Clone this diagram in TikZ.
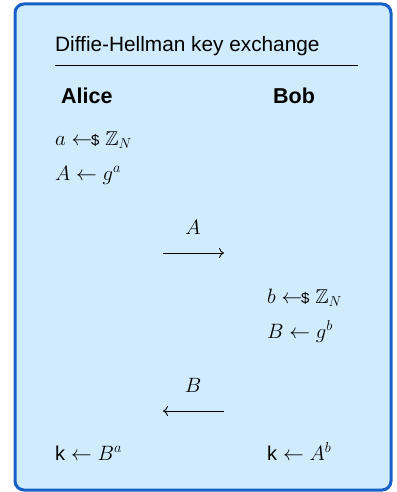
\documentclass[tikz,border=0pt]{standalone}
\usepackage{fontspec}
\usepackage{amssymb}
\setsansfont{Liberation Sans}
\usetikzlibrary{positioning,arrows.meta}

\definecolor{boxfill}{HTML}{D0ECFC}
\definecolor{boxline}{HTML}{1660C8}

\newcommand{\sampleto}{\mathrel{\leftarrow\!\!\mbox{\fontsize{15}{15}\sffamily\$}}}
\newcommand{\keyk}{\mbox{\sffamily k}}

\tikzset{
  party/.style={anchor=base west, inner sep=0pt, font=\fontsize{21.5}{24}\sffamily\bfseries},
  step line/.style={anchor=base west, inner sep=0pt, font=\fontsize{20}{24}\selectfont},
  msg/.style={-{Computer Modern Rightarrow[length=5pt,width=10pt]}, line width=0.9pt},
  msglabel/.style={inner sep=0pt, anchor=base, font=\fontsize{20}{24}\selectfont}
}

\begin{document}
\begin{tikzpicture}[x=1pt, y=-1pt]
  \useasboundingbox (0,0) rectangle (396,492);

  % kassen
  \draw[boxline, fill=boxfill, line width=3pt, rounded corners=9pt]
    (15,4) rectangle (391,490);

  % tittel
  \node[anchor=base west, inner sep=0pt, font=\fontsize{20.8}{24}\sffamily] (title)
    at (55,52) {Diffie-Hellman key exchange};
  \draw[line width=0.6pt] (55,65) -- (358,65);

  % partene
  \node[party] (alice) at (61,104) {Alice};
  \node[party] (bob) at (273,104) {Bob};

  % Alice
  \node[step line] (asample) at (55,145) {$a \sampleto \mathbb{Z}_N$};
  \node[step line] (apub) at (55,180) {$A \leftarrow g^a$};

  % melding A
  \coordinate (msgA-l) at (163,253);
  \coordinate (msgA-r) at (224,253);
  \draw[msg] (msgA-l) -- (msgA-r);
  \node[msglabel] (labA) at (193,234) {$A$};

  % Bob
  \node[step line] (bsample) at (267,303) {$b \sampleto \mathbb{Z}_N$};
  \node[step line] (bpub) at (267,338) {$B \leftarrow g^b$};

  % melding B
  \coordinate (msgB-l) at (163,411);
  \coordinate (msgB-r) at (224,411);
  \draw[msg] (msgB-r) -- (msgB-l);
  \node[msglabel] (labB) at (193,392) {$B$};

  % nøkler
  \node[step line] (akey) at (55,460) {\keyk\ $\leftarrow B^a$};
  \node[step line] (bkey) at (267,460) {\keyk\ $\leftarrow A^b$};
\end{tikzpicture}
\end{document}
